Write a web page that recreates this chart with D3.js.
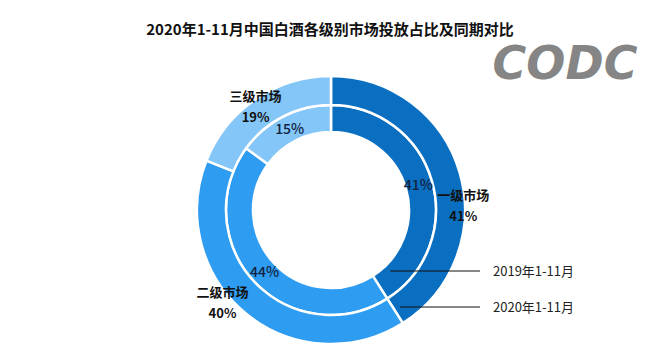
<!DOCTYPE html>
<html>
<head>
<meta charset="utf-8">
<script src="https://cdn.jsdelivr.net/npm/d3@7"></script>
<style>
  body { margin: 0; background: #fff; }
  text { font-family: "Noto Sans CJK SC", "Noto Sans", sans-serif; }
</style>
</head>
<body>
<div class="chart-area"></div>
<script>
// data
var categories = ["一级市场", "二级市场", "三级市场"];
var values2019 = [41, 44, 15];
var values2020 = [41, 40, 19];
var seriesNames = ["2019年1-11月", "2020年1-11月"];
var colors = ["#0b6fc1", "#2e9cf0", "#84c6f8"];

var width = 669, height = 363;
var cx = 331, cy = 210;

var svg = d3.select(".chart-area").append("svg")
    .attr("width", width)
    .attr("height", height);

// title
svg.append("text")
    .attr("x", 330)
    .attr("y", 35)
    .attr("text-anchor", "middle")
    .attr("font-size", 15)
    .attr("font-weight", "bold")
    .attr("fill", "#111")
    .text("2020年1-11月中国白酒各级别市场投放占比及同期对比");

// logo
svg.append("text")
    .attr("x", 565)
    .attr("y", 79)
    .attr("text-anchor", "middle")
    .attr("font-size", 46)
    .attr("font-weight", "bold")
    .attr("font-style", "italic")
    .attr("fill", "#858585")
    .style("font-family", "'DejaVu Sans', sans-serif")
    .text("CODC");

var pie = d3.pie().sort(null).value(function(d) { return d; });

var g = svg.append("g").attr("transform", "translate(" + cx + "," + cy + ")");

// rings: inner = 2019, outer = 2020
var rings = [
    { values: values2019, inner: 78, outer: 105 },
    { values: values2020, inner: 105, outer: 134 }
];

rings.forEach(function(ring) {
    var arc = d3.arc().innerRadius(ring.inner).outerRadius(ring.outer);
    g.append("g").selectAll("path")
        .data(pie(ring.values))
        .enter()
        .append("path")
        .attr("d", arc)
        .attr("fill", function(d, i) { return colors[i]; })
        .attr("stroke", "#fff")
        .attr("stroke-width", 2.5);
});

// inner ring labels at arc centroid
var innerLabelArc = d3.arc().innerRadius(91).outerRadius(91);
g.append("g").selectAll("text")
    .data(pie(values2019))
    .enter()
    .append("text")
    .attr("transform", function(d) { return "translate(" + innerLabelArc.centroid(d) + ")"; })
    .attr("text-anchor", "middle")
    .attr("dy", "0.35em")
    .attr("font-size", 14)
    .attr("font-weight", 500)
    .attr("fill", "#13223f")
    .text(function(d) { return d.value + "%"; });

// outer ring labels (name + percent), nudged off the centroid like the original
var outerLabelArc = d3.arc().innerRadius(120).outerRadius(120);
var outerNudge = [[17, 29], [-32, 0], [-8, -4]];
var outerLabels = g.append("g").selectAll("g")
    .data(pie(values2020))
    .enter()
    .append("g")
    .attr("transform", function(d, i) {
        var c = outerLabelArc.centroid(d);
        return "translate(" + (c[0] + outerNudge[i][0]) + "," + (c[1] + outerNudge[i][1]) + ")";
    });

outerLabels.append("text")
    .attr("text-anchor", "middle")
    .attr("y", -10.5)
    .attr("dy", "0.35em")
    .attr("font-size", 13)
    .attr("font-weight", "bold")
    .attr("fill", "#111")
    .text(function(d, i) { return categories[i]; });

outerLabels.append("text")
    .attr("text-anchor", "middle")
    .attr("y", 10.5)
    .attr("dy", "0.35em")
    .attr("font-size", 13)
    .attr("font-weight", "bold")
    .attr("fill", "#111")
    .text(function(d) { return d.value + "%"; });

// series callouts
var callouts = [
    { name: seriesNames[0], r: 85, y: 61 },
    { name: seriesNames[1], r: 119, y: 97 }
];

callouts.forEach(function(c) {
    var x0 = Math.sqrt(c.r * c.r - c.y * c.y);
    g.append("line")
        .attr("x1", x0)
        .attr("x2", 149)
        .attr("y1", c.y)
        .attr("y2", c.y)
        .attr("stroke", "#111")
        .attr("stroke-width", 1);
    g.append("text")
        .attr("x", 162)
        .attr("y", c.y)
        .attr("dy", "0.35em")
        .attr("font-size", 13)
        .attr("fill", "#222")
        .text(c.name);
});
</script>
</body>
</html>
